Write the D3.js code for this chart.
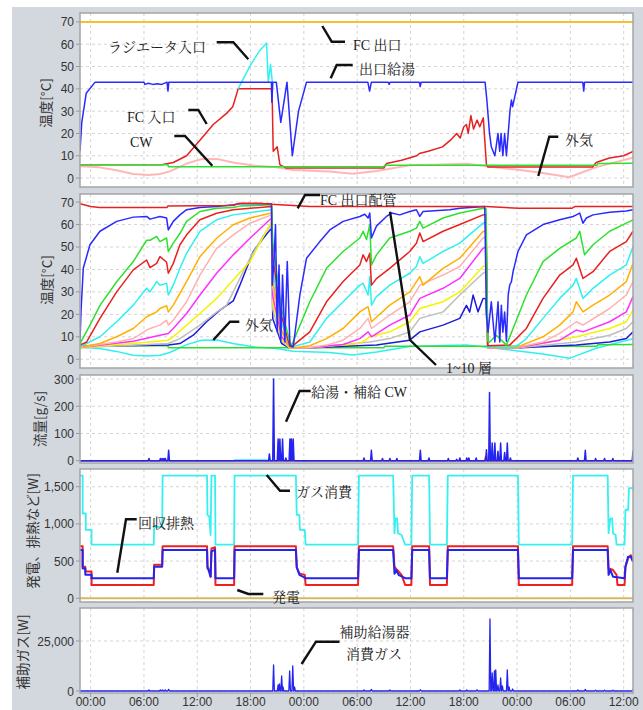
<!DOCTYPE html>
<html>
<head>
<meta charset="utf-8">
<script src="https://cdn.jsdelivr.net/npm/d3@7/dist/d3.min.js"></script>
<style>
body { margin: 0; background: #fff; }
</style>
</head>
<body>
<script>
'use strict';

// ---- data (time in hours from the first 00:00) ----
const xTicks = [0, 6, 12, 18, 24, 30, 36, 42, 48, 54, 60];
const xTickLabels = ['00:00', '06:00', '12:00', '18:00', '00:00', '06:00', '12:00', '18:00', '00:00', '06:00', '12:00'];

// panel 1 : temperatures
const fcOut = [[-1.2, 70], [61.05, 70]];
const hotOut = [[-1.2, 12], [-1.0, 25], [-0.5, 38], [0.5, 43], [6.0, 43], [6.1, 42], [6.5, 42.5], [7.0, 42], [7.5, 42.3], [8.0, 42],
  [8.6, 43], [8.7, 39], [8.8, 43], [20.35, 43], [20.4, 34], [20.5, 43], [20.9, 43], [21.4, 25], [21.6, 30], [22.1, 43],
  [22.7, 10], [23.4, 30], [24.3, 43], [31.2, 43], [31.4, 39], [31.6, 43], [33.5, 43], [33.6, 42], [33.7, 43], [37.0, 43],
  [37.1, 41], [37.2, 43], [44.4, 43], [44.6, 35], [44.9, 20], [45.1, 14], [45.5, 10], [45.85, 20], [46.05, 12], [46.2, 20],
  [46.4, 10], [46.6, 20], [46.8, 10], [47.2, 30], [47.36, 35], [47.5, 32], [48.1, 43], [55.4, 43], [55.5, 39], [55.6, 43], [61.05, 43]];
const fcIn = [[-1.2, 6.0], [8.0, 6.0], [8.7, 6.5], [9.3, 7], [10.8, 10], [12.3, 17], [13.8, 24], [15.3, 29], [16.0, 32], [16.6, 40],
  [20.35, 40], [20.45, 33], [20.55, 12], [21.0, 14], [21.3, 6], [22, 4.5], [33, 4.5], [33.3, 6.5], [35, 8], [36.7, 10], [37, 11],
  [38, 12], [39.6, 14], [40.5, 17], [41.2, 20], [41.6, 18], [42, 23], [42.3, 24], [42.5, 20], [42.8, 28], [43.1, 22], [43.5, 26],
  [43.8, 23], [44.2, 27], [44.55, 6], [44.7, 5], [56.5, 5], [56.9, 7], [58.4, 9], [60, 10], [61.05, 12]];
const radiatorIn = [[16.6, 40], [17.9, 50], [19.0, 57], [19.8, 60.5], [19.99, 43], [20.25, 51], [20.45, 43]];
const cw = [[-1.2, 6], [8.7, 6], [8.75, 5.1], [33, 5.1], [33.1, 5.8], [57, 5.8], [57.1, 6.5], [61.05, 6.6]];
const outdoor = [[-1.2, 5.3], [1.0, 4.8], [2.9, 3.5], [4.8, 1.8], [6.5, 1.4], [7.8, 1.8], [8.9, 3], [10.8, 6.5], [12.5, 8.5],
  [14.2, 8.6], [16.0, 7], [18.5, 5.5], [20.9, 4.8], [22.8, 3.6], [26.9, 3], [29.5, 1.9], [32.2, 3.2], [35.9, 5.7], [39.7, 6.1],
  [42.3, 6.4], [44.6, 5.3], [47.9, 3.8], [50.9, 2.3], [53.9, 0.4], [54.7, 1.6], [56.9, 4.9], [61.05, 9.1]];

// panel 2 : tank layers
const fcOutPipe = [[-1.2, 69.3], [0, 68], [1, 67.6], [8.6, 67.6], [8.7, 68.3], [16, 68.5], [16.8, 69.5], [19, 69.5], [20.4, 69],
  [24.67, 68], [44.5, 68], [48.2, 67.3], [54.2, 67.3], [54.5, 68], [61.05, 68]];
const layer1 = [[-1.2, 8], [-1.09, 21], [-0.83, 40.5], [-0.08, 51], [1.05, 57], [2.93, 61.4], [4.8, 63.3], [6.3, 63.6], [6.68, 62.4],
  [7.8, 63.6], [8.55, 62.9], [8.74, 57.6], [9.3, 61.4], [10.05, 64.3], [10.8, 66.6], [12.3, 67.6], [14.18, 68], [16.05, 68.8],
  [16.8, 69.3], [20.36, 69.3], [20.44, 33], [20.63, 43.5], [20.81, 60], [21.0, 12.2], [21.2, 42], [21.4, 7.7], [21.6, 37.5],
  [21.86, 7.7], [22.13, 43.5], [22.43, 6.3], [22.8, 5.5], [23.55, 28.6], [24.3, 45], [25.8, 52.4], [26.92, 57.6], [28.42, 61.4],
  [30.3, 63.6], [30.86, 64.6], [31.23, 62.9], [31.42, 65.1], [31.61, 54], [32.17, 59.3], [33.3, 63.6], [33.86, 65.1], [34.8, 64.3],
  [35.92, 65.8], [36.67, 66.6], [37.05, 63.6], [37.42, 65.8], [40.42, 66.6], [41.55, 67.3], [44.36, 68], [44.55, 20], [44.73, 12],
  [45.1, 25.6], [45.5, 7.7], [45.86, 25.6], [46.05, 7.7], [46.23, 24], [46.4, 12], [46.6, 21], [46.8, 8], [47.0, 28.6], [47.17, 33],
  [47.36, 34.5], [47.55, 39], [48.1, 48], [49.05, 55.4], [50.92, 60], [52.8, 62.1], [54.3, 63.6], [54.67, 64.3], [55.05, 65.1],
  [55.42, 60.6], [55.8, 62.9], [56.55, 64.3], [58.42, 65.5], [60.3, 66], [61.05, 66.6]];
const layer2 = [[-1.2, 6], [-1.09, 7.7], [-0.08, 15.2], [1.05, 24], [2.93, 34.5], [4.8, 43.5], [6.3, 53], [6.68, 53], [7.43, 54.7],
  [7.8, 52.4], [8.55, 54], [8.74, 48], [9.3, 51.7], [10.05, 56], [10.8, 61.4], [12.3, 65.8], [14.18, 67.3], [16.05, 67.6], [16.8, 68.2],
  [20.36, 68.8], [20.5, 52], [21.5, 22], [22.4, 8], [22.6, 6], [24.67, 25.6], [26.55, 40.5], [28.42, 48], [30.3, 54], [30.67, 57],
  [31.05, 53.3], [31.42, 60], [31.61, 42], [32.17, 46.5], [33.67, 54], [35.92, 57], [36.67, 58.4], [37.05, 61.4], [37.42, 58.4],
  [39.67, 62.9], [41.55, 65.1], [44.17, 67.3], [44.5, 67], [44.7, 8], [44.92, 7.7], [45.67, 10.7], [46.8, 6.3], [47.55, 13.7],
  [49.05, 28.6], [50.92, 43.5], [52.8, 49.4], [54.67, 54], [55.05, 57], [55.6, 46.5], [56.55, 51], [58.42, 57], [60.3, 60.6], [61.05, 62.1]];
const layer3 = [[-1.2, 6.3], [-0.45, 7.7], [1.05, 18.2], [2.93, 30], [4.8, 39.8], [6.3, 44.2], [6.68, 40.8], [7.43, 42.7], [7.8, 45.7],
  [8.55, 43.2], [8.74, 38.3], [9.3, 42.7], [10.05, 51], [10.8, 55.4], [12.3, 62.1], [14.18, 65], [16.05, 66.6], [20.36, 68], [20.5, 45],
  [21.5, 19], [22.4, 6], [22.6, 5.5], [24.67, 12.2], [26.55, 25.6], [28.42, 34.6], [30.3, 42], [30.67, 46.5], [31.05, 43.5],
  [31.42, 47.2], [31.61, 33], [32.17, 35.9], [33.67, 40.5], [35.92, 48], [36.67, 51.7], [37.05, 56.2], [37.42, 52.4], [39.67, 57],
  [41.55, 60], [44.17, 64.3], [44.5, 64.5], [44.7, 6], [47.17, 6.3], [49.05, 13.7], [50.92, 27.1], [52.8, 37.5], [54.3, 42],
  [54.67, 45], [55.42, 36], [56.55, 39], [58.42, 48], [60.3, 52.4], [61.05, 57]];
const layer4 = [[-1.2, 5.5], [1.05, 10], [2.93, 16.7], [4.8, 24.1], [6.3, 31.6], [6.68, 30], [7.43, 34.6], [7.8, 33], [8.55, 33.8],
  [8.74, 28.6], [9.3, 33], [10.05, 40.5], [10.8, 47.2], [12.3, 57], [14.18, 62.1], [16.05, 64.3], [20.36, 66.6], [20.5, 40],
  [21.5, 16], [22.4, 6], [22.7, 5.5], [24.67, 7.7], [26.55, 18.2], [28.42, 25.6], [30.3, 33], [30.67, 33.8], [31.23, 28.6],
  [31.42, 36.8], [31.61, 24.1], [32.17, 27.9], [33.67, 33], [35.92, 38.3], [36.67, 41.3], [37.05, 45.7], [37.42, 42.7], [39.67, 48],
  [41.55, 51.7], [44.17, 60.6], [44.5, 61], [44.7, 5.5], [47.92, 5.7], [49.05, 9.2], [50.92, 18.2], [52.8, 27.1], [54.3, 33],
  [54.67, 36], [55.42, 27.1], [56.55, 31.6], [58.42, 37.5], [60.3, 42], [61.05, 50.2]];
const layer5 = [[-1.2, 5.5], [1.05, 7], [2.93, 10], [4.8, 13.7], [6.3, 18.9], [6.68, 19.7], [7.43, 21.1], [7.8, 22.6], [8.55, 23.8],
  [8.74, 21.1], [9.3, 24.1], [10.8, 34.6], [12.3, 45.7], [14.18, 53.9], [16.05, 59.9], [17.93, 62.9], [20.36, 65.1], [20.5, 35],
  [21.5, 13], [22.4, 5.5], [22.8, 5], [24.67, 6], [26.55, 9.2], [28.42, 13.7], [30.3, 21.1], [31.23, 23.4], [31.61, 16.7],
  [33.67, 24.1], [35.92, 30], [37.05, 36.8], [37.42, 33], [39.67, 40.5], [41.55, 45], [44.17, 56.9], [44.5, 57], [44.7, 5.3],
  [47.92, 5.3], [50.92, 10], [52.8, 15.2], [54.3, 21.1], [54.67, 25.6], [55.42, 21.1], [56.55, 24.1], [58.42, 28.6], [60.3, 34.6], [61.05, 42.7]];
const layer6 = [[-1.2, 5.2], [2.93, 7.7], [4.8, 9.2], [6.3, 13], [6.68, 13.7], [7.8, 15.2], [8.55, 17.4], [8.74, 15.2], [9.3, 17.4],
  [10.8, 25.6], [12.3, 37.5], [14.18, 49.4], [16.05, 55.4], [17.93, 60.6], [20.36, 64.3], [20.5, 32], [21.5, 12], [22.4, 5.5],
  [22.8, 5], [24.67, 5.2], [26.55, 6.3], [28.42, 8.5], [30.3, 13.7], [31.23, 18.2], [31.61, 13.7], [33.67, 19.7], [35.92, 25.6],
  [37.05, 33], [39.67, 37.5], [41.55, 41.3], [44.17, 54], [44.5, 54.5], [44.7, 5.2], [47.92, 5.2], [50.92, 7.7], [52.8, 11.5],
  [54.67, 16.7], [55.42, 15.2], [58.42, 22.6], [60.3, 28.6], [61.05, 34.6]];
const layer7 = [[-1.2, 5.2], [4.8, 8], [6.68, 9.7], [7.8, 10.7], [8.74, 11.5], [9.3, 13.7], [10.8, 20.4], [12.3, 28.6], [14.18, 38.3],
  [16.05, 46.5], [17.93, 53.9], [20.36, 62.9], [20.5, 28], [21.5, 10], [22.4, 5.5], [22.8, 5], [24.67, 5.1], [28.42, 6.6], [30.3, 9.2],
  [31.23, 12.2], [31.61, 10], [33.67, 15.2], [35.92, 19.7], [37.05, 27.1], [39.67, 31.6], [41.55, 36], [44.17, 49.4], [44.5, 50],
  [44.7, 5.1], [47.92, 5.1], [52.8, 8.5], [54.67, 13], [55.42, 12.2], [58.42, 16.7], [60.3, 21.1], [61.05, 27.9]];
const layer8 = [[-1.2, 5.1], [6.68, 7.7], [8.74, 8.5], [9.3, 10], [10.8, 15.2], [12.3, 20.4], [14.18, 27.1], [16.05, 35.3],
  [17.93, 43.5], [20.36, 61.4], [20.5, 25], [21.5, 9], [22.4, 5], [24.67, 5.1], [30.3, 7], [31.42, 10], [33.67, 12.2], [35.92, 16.7],
  [37.05, 22.6], [39.67, 25.6], [41.55, 30], [44.17, 41.3], [44.5, 42], [44.7, 5], [47.92, 5], [54.67, 10], [58.42, 13.7],
  [60.3, 16.7], [61.05, 21.9]];
const layer9 = [[-1.2, 5.1], [8.74, 7], [10.05, 9.2], [12.3, 15.2], [14.18, 21], [15.3, 24], [16.05, 30], [16.8, 36], [17.93, 45],
  [19.43, 55], [20.36, 60], [20.5, 22], [21.5, 8], [22.4, 5], [24.67, 5.1], [31.42, 7.7], [33.67, 9.2], [35.92, 12.2], [37.05, 18.2],
  [39.67, 21.1], [41.55, 28.6], [44.17, 38.3], [44.5, 39], [44.7, 5], [47.92, 5], [54.67, 7.7], [58.42, 10.7], [60.3, 13.7], [61.05, 16.7]];
const layer10 = [[-1.2, 5.7], [8.74, 6.3], [10.05, 7], [11.55, 10.7], [13.05, 16.7], [14.55, 21.9], [16.05, 26], [16.8, 33],
  [18.3, 48], [19.43, 53.9], [20.36, 58.4], [20.5, 18], [21.5, 7], [22.4, 5], [24.67, 5.1], [32.17, 6.3], [35.92, 8.5], [37.05, 12.2],
  [39.67, 15.2], [41.55, 18.2], [42.3, 24], [42.67, 21], [43.05, 28.6], [43.6, 21.1], [44.17, 27.1], [44.5, 27], [44.7, 5],
  [47.92, 5], [54.67, 6.3], [58.42, 7.7], [60.3, 9.2], [61.05, 12.2]];
const layers = [layer1, layer2, layer3, layer4, layer5, layer6, layer7, layer8, layer9, layer10];
const layerColors = ['#2a2aff', '#2ee02e', '#e82020', '#2ef0f0', '#ffb000', '#ffb0b0', '#ff30ff', '#f4f400', '#bdbdbd', '#1c1cd8'];

// panel 3 : flow spikes [hour, g/s]
const flowHot = [[6.56, 8], [7.85, 8], [8.05, 8], [8.25, 8], [8.41, 8], [8.78, 38], [20.12, 25], [20.59, 300], [21.1, 80],
  [21.3, 80], [21.6, 80], [21.97, 10], [22.43, 80], [22.6, 80], [22.8, 80], [30.77, 10], [31.6, 38], [32.85, 8], [33.68, 8],
  [34.47, 8], [37.11, 38], [38.08, 10], [40.26, 8], [41.2, 5], [41.56, 10], [42.34, 10], [42.57, 10], [43.4, 10], [44.55, 40],
  [44.9, 250], [45.2, 65], [45.5, 65], [45.85, 35], [46.15, 65], [46.6, 30], [46.9, 65], [47.25, 10], [54.84, 10], [55.68, 38],
  [56.84, 8], [57.85, 8], [58.78, 8], [61.05, 35]];
const flowMakeup = [[44.45, 15]];
const flowLow = [[-1.2, 0], [16.19, 0], [16.2, 3], [19.89, 3], [19.9, 0], [61.05, 0]];

// panel 4 : power [W]
const gasUse = [[-1.2, 1650], [-0.9, 1650], [-0.9, 1140], [-0.55, 1140], [-0.55, 920], [0.1, 920], [0.1, 720], [7.1, 720],
  [7.15, 960], [8.05, 960], [8.1, 1650], [13.1, 1650], [13.15, 1120], [13.35, 1100], [13.5, 850], [13.6, 1650], [14.0, 1650],
  [14.05, 720], [16.15, 720], [16.2, 1650], [23.1, 1650], [23.2, 1120], [23.5, 1120], [23.55, 920], [24.1, 920], [24.2, 720],
  [30.1, 720], [30.2, 1650], [34.05, 1650], [34.2, 875], [34.3, 1075], [34.5, 1075], [34.6, 875], [35.0, 850], [35.4, 720],
  [36.1, 720], [36.2, 1650], [38.1, 1650], [38.2, 720], [40.1, 720], [40.2, 1650], [48.1, 1650], [48.2, 720], [54.2, 720],
  [54.3, 1650], [58.2, 1650], [58.3, 875], [58.5, 1075], [58.7, 1075], [58.8, 875], [59.1, 850], [59.2, 720], [60.1, 720],
  [60.2, 1190], [60.5, 1190], [60.6, 1480], [61.05, 1480]];
const generation = [[-1.2, 700], [-0.9, 700], [-0.9, 425], [-0.6, 425], [-0.6, 360], [0.1, 360], [0.1, 180], [7.1, 180],
  [7.15, 450], [8.05, 450], [8.1, 700], [13.1, 700], [13.15, 400], [13.4, 380], [13.5, 290], [13.6, 670], [14.0, 685], [14.05, 180],
  [16.15, 180], [16.2, 700], [23.1, 700], [23.2, 415], [23.5, 335], [24.1, 315], [24.2, 180], [30.1, 180], [30.2, 700], [34.05, 700],
  [34.2, 425], [34.5, 380], [35.0, 315], [35.4, 180], [36.1, 180], [36.2, 700], [38.1, 700], [38.2, 180], [40.1, 180], [40.2, 700],
  [48.1, 700], [48.2, 180], [54.2, 180], [54.3, 700], [58.2, 700], [58.3, 405], [58.8, 380], [59.2, 315], [59.3, 180], [60.1, 180],
  [60.2, 425], [60.5, 540], [60.8, 580], [61.05, 515]];
const heatRecovered = [[-1.2, 650], [-0.9, 650], [-0.9, 400], [-0.6, 400], [-0.6, 315], [0.1, 315], [0.1, 270], [7.1, 270],
  [7.15, 425], [8.05, 425], [8.1, 650], [13.1, 650], [13.15, 425], [13.5, 290], [13.6, 630], [14.0, 650], [14.05, 270], [16.15, 270],
  [16.2, 650], [23.1, 650], [23.2, 415], [23.5, 315], [24.2, 270], [30.1, 270], [30.2, 650], [34.05, 650], [34.2, 330], [34.4, 380],
  [34.7, 310], [35.4, 270], [36.1, 270], [36.2, 650], [38.1, 650], [38.2, 270], [40.1, 270], [40.2, 650], [48.1, 650], [48.2, 270],
  [54.2, 270], [54.3, 650], [58.2, 650], [58.3, 315], [58.5, 380], [58.8, 290], [60.1, 270], [60.2, 425], [60.5, 560], [60.8, 560],
  [61.05, 490]];
const powerZero = [[-1.2, 0], [61.05, 0]];

// panel 5 : auxiliary heater gas spikes [hour, W]
const auxGas = [[6.56, 500], [7.85, 500], [8.1, 500], [8.41, 500], [8.78, 800], [20.59, 13000], [21.1, 3000], [21.25, 3500],
  [21.5, 7500], [21.65, 2000], [22.4, 10000], [22.75, 12500], [22.95, 2000], [30.77, 500], [31.6, 800], [33.68, 500], [37.11, 600],
  [41.56, 500], [42.34, 500], [43.5, 600], [44.95, 36000], [45.2, 9000], [45.45, 10000], [45.6, 10500], [45.85, 3000],
  [46.15, 6500], [46.35, 2500], [46.9, 10500], [47.1, 2000], [47.5, 1000], [54.84, 500], [55.68, 800], [56.84, 400], [57.85, 400],
  [58.78, 400], [61.05, 600]];

// ---- layout ----
const width = 643, height = 710;
const left = 80, right = 633;
const x = d3.scaleLinear().domain([-1.2, 61.05]).range([left, right]);

const svg = d3.select('body').append('svg')
  .attr('width', width)
  .attr('height', height)
  .style('display', 'block');

svg.append('rect').attr('width', width).attr('height', height).attr('fill', '#fff');
svg.append('rect').attr('x', 12).attr('y', 7).attr('width', width - 12).attr('height', height - 7).attr('fill', '#d3d8de');

const tickFont = '"Liberation Sans", Arial, sans-serif';
const cjkFont = '"Noto Sans CJK JP", sans-serif';
const noteFont = '"Liberation Serif", "Noto Serif CJK JP", "Noto Sans CJK JP", serif';

const line = (y) => d3.line().x(d => x(d[0])).y(d => y(d[1]));

// spikes drawn as narrow peaks on a zero baseline
function spikes(list) {
  let pts = [[-1.2, 0]];
  list.forEach(d => { pts.push([d[0] - 0.09, 0], [d[0], d[1]], [d[0] + 0.09, 0]); });
  pts.push([61.05, 0]);
  return pts;
}

function panel(cfg) {
  const y = d3.scaleLinear().domain(cfg.domain).range([cfg.bottom, cfg.top]);
  const g = svg.append('g');
  const id = 'clip-' + cfg.name;
  svg.append('clipPath').attr('id', id).append('rect')
    .attr('x', left).attr('y', cfg.top).attr('width', right - left).attr('height', cfg.bottom - cfg.top);

  g.append('rect').attr('x', left).attr('y', cfg.top).attr('width', right - left).attr('height', cfg.bottom - cfg.top)
    .attr('fill', '#fff');

  // grid
  g.selectAll('.hg').data(cfg.ticks).enter().append('line')
    .attr('x1', left).attr('x2', right)
    .attr('y1', d => y(d)).attr('y2', d => y(d))
    .attr('stroke', '#d4d4d4').attr('stroke-dasharray', '3,3');
  g.selectAll('.vg').data(xTicks).enter().append('line')
    .attr('x1', d => x(d)).attr('x2', d => x(d))
    .attr('y1', cfg.top).attr('y2', cfg.bottom)
    .attr('stroke', '#d4d4d4').attr('stroke-dasharray', '3,3');

  // y ticks
  g.selectAll('.tk').data(cfg.ticks).enter().append('line')
    .attr('x1', left - 4).attr('x2', left)
    .attr('y1', d => y(d)).attr('y2', d => y(d))
    .attr('stroke', '#999');
  g.selectAll('.tl').data(cfg.ticks).enter().append('text')
    .attr('x', left - 6).attr('y', d => y(d) + 4.5)
    .attr('text-anchor', 'end')
    .style('font-family', tickFont).style('font-size', '12px').attr('fill', '#333')
    .text(d => d3.format(',')(d));

  g.append('text')
    .attr('transform', `translate(${cfg.titleX},${cfg.titleY}) rotate(-90)`)
    .attr('text-anchor', 'middle').attr('dy', '0.35em')
    .style('font-family', cjkFont).style('font-size', '13.5px').attr('fill', '#333')
    .text(cfg.title);

  const plot = g.append('g').attr('clip-path', `url(#${id})`);
  cfg.series.forEach(s => {
    plot.append('path').datum(s.data)
      .attr('d', line(y))
      .attr('fill', 'none')
      .attr('stroke', s.color)
      .attr('stroke-width', s.w || 1.5)
      .attr('stroke-linejoin', 'round');
  });

  g.append('rect').attr('x', left).attr('y', cfg.top).attr('width', right - left).attr('height', cfg.bottom - cfg.top)
    .attr('fill', 'none').attr('stroke', '#a4a4a4').attr('stroke-width', 1.5);
  return y;
}

const tempTicks = [0, 10, 20, 30, 40, 50, 60, 70];

panel({
  name: 'p1', top: 13, bottom: 187, domain: [-4, 74], ticks: tempTicks,
  title: '温度[°C]', titleX: 46, titleY: 103,
  series: [
    { data: outdoor, color: '#ffb6b6', w: 2 },
    { data: fcIn, color: '#e62020' },
    { data: cw, color: '#2ee02e' },
    { data: radiatorIn, color: '#36f0f0' },
    { data: hotOut, color: '#2a2aff' },
    { data: fcOut, color: '#f8c030', w: 2 }
  ]
});

panel({
  name: 'p2', top: 194, bottom: 368, domain: [-3.9, 73.6], ticks: tempTicks,
  title: '温度[°C]', titleX: 47, titleY: 280,
  series: [
    { data: outdoor, color: '#2ef0f0' },
    { data: cw, color: '#2ee02e' }
  ].concat(layers.map((d, i) => ({ data: d, color: layerColors[i] })).reverse())
    .concat([{ data: fcOutPipe, color: '#e82020' }])
});

panel({
  name: 'p3', top: 375, bottom: 463, domain: [-8.4, 314.7], ticks: [0, 100, 200, 300],
  title: '流量[g/s]', titleX: 40, titleY: 419,
  series: [
    { data: flowLow, color: '#2ef0f0' },
    { data: spikes(flowMakeup), color: '#e82020' },
    { data: spikes(flowHot), color: '#2424f0' }
  ]
});

panel({
  name: 'p4', top: 469, bottom: 602, domain: [-50, 1738], ticks: [0, 500, 1000, 1500],
  title: '発電、排熱など[W]', titleX: 33, titleY: 531,
  series: [
    { data: powerZero, color: '#d8b860', w: 2 },
    { data: gasUse, color: '#36f0f0', w: 1.8 },
    { data: generation, color: '#f02020', w: 2 },
    { data: heatRecovered, color: '#2424f0', w: 2 }
  ]
});

panel({
  name: 'p5', top: 608, bottom: 693, domain: [-1000, 41500], ticks: [0, 25000],
  title: '補助ガス[W]', titleX: 23, titleY: 652,
  series: [
    { data: spikes(auxGas), color: '#2424f0', w: 1.3 }
  ]
});

// x axis
svg.selectAll('.xt').data(xTicks).enter().append('line')
  .attr('x1', d => x(d)).attr('x2', d => x(d))
  .attr('y1', 693).attr('y2', 697)
  .attr('stroke', '#999');
svg.selectAll('.xl').data(xTicks).enter().append('text')
  .attr('x', d => x(d)).attr('y', 706)
  .attr('text-anchor', 'middle')
  .style('font-family', tickFont).style('font-size', '12px').attr('fill', '#333')
  .text((d, i) => xTickLabels[i]);

// annotations
const notes = [
  { t: 'ラジエータ入口', x: 108, y: 47, p: [[216.7, 42.3], [233.3, 42.3], [248.3, 59.3]] },
  { t: 'FC 入口', x: 127, y: 117, p: [[188.3, 110], [198.3, 110], [206.7, 124]] },
  { t: 'CW', x: 130, y: 142, p: [[174.3, 136], [185, 136], [212.3, 165.7]] },
  { t: 'FC 出口', x: 353, y: 44.5, p: [[322.3, 26], [331.7, 41.7], [345, 41.7]] },
  { t: '出口給湯', x: 359, y: 68.5, p: [[330.7, 78.3], [336.7, 65], [352.7, 65]] },
  { t: '外気', x: 565, y: 139.5, p: [[538.3, 176], [549.3, 136.7], [558.3, 136.7]] },
  { t: 'FC 出口配管', x: 320, y: 200, p: [[297.7, 208.3], [305, 195], [320, 195]] },
  { t: '外気', x: 245, y: 325, p: [[213.3, 340], [230, 321.7], [239.3, 321.7]] },
  { t: '1~10 層', x: 446, y: 368, p: [[390, 211.7], [410, 340], [436, 365]] },
  { t: '給湯・補給 CW', x: 311, y: 392, p: [[286, 421.7], [299.6, 391], [310.7, 391]] },
  { t: 'ガス消費', x: 296, y: 492, p: [[266.7, 475], [280, 490.7], [290, 490.7]] },
  { t: '回収排熱', x: 138, y: 523, p: [[117.3, 572.7], [126, 519.3], [136.7, 519.3]] },
  { t: '発電', x: 272, y: 597, p: [[237.3, 590], [248.3, 594], [263.3, 594]] },
  { t: '補助給湯器', x: 339.5, y: 632, p: [[301.6, 664], [316, 641.7], [339.5, 641.7]] },
  { t: '消費ガス', x: 346, y: 653.5, p: null }
];

const ann = svg.append('g');
notes.forEach(n => {
  if (n.p) {
    ann.append('path').attr('d', d3.line()(n.p))
      .attr('fill', 'none').attr('stroke', '#111').attr('stroke-width', 2.4);
  }
  ann.append('text').attr('x', n.x).attr('y', n.y).attr('dy', '0.36em')
    .style('font-family', noteFont).style('font-size', '14px').attr('fill', '#1a1a1a')
    .text(n.t);
});
</script>
</body>
</html>
